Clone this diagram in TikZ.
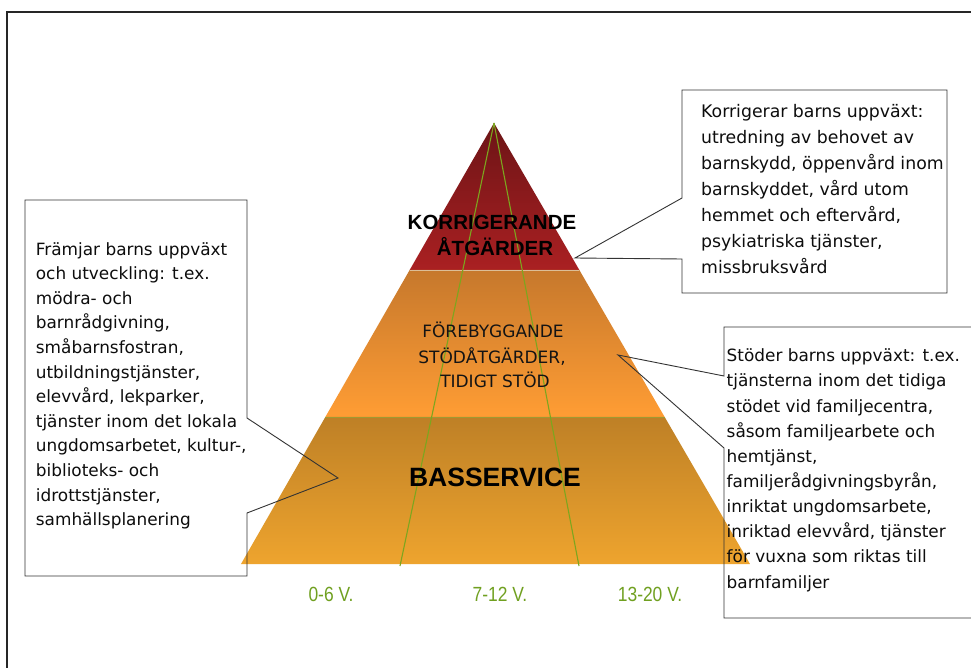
\documentclass[tikz,border=0pt]{standalone}
\usepackage{fontspec}
\setmainfont{Liberation Sans}
\newfontfamily\callfont{DejaVu Sans}
\newfontfamily\midfont{DejaVu Sans}
\newfontfamily\labelfont{Liberation Sans}[FakeStretch=0.85]
\usetikzlibrary{calc}
\definecolor{redtop}{RGB}{108,20,22}
\definecolor{redbot}{RGB}{170,32,34}
\definecolor{midtop}{RGB}{198,120,44}
\definecolor{midbot}{RGB}{255,157,52}
\definecolor{bastop}{RGB}{190,128,38}
\definecolor{basbot}{RGB}{238,164,46}
\definecolor{agegreen}{RGB}{112,160,32}
\definecolor{linegreen}{RGB}{124,166,30}
\begin{document}
\begin{tikzpicture}[x=1pt,y=-1pt,
  callout/.style={draw=black!80, line width=0.9pt, line join=miter},
  calltext/.style={anchor=base west, inner sep=0pt, font=\callfont\fontsize{16.9}{20}\selectfont, text=black!95},
  midtext/.style={anchor=base, inner sep=0pt, font=\midfont\fontsize{17}{20}\selectfont, text=black!92},
  boldtext/.style={anchor=base, inner sep=0pt, font=\bfseries\fontsize{20.5}{24}\selectfont, text=black},
  agelabel/.style={anchor=base, inner sep=0pt, text=agegreen, font=\labelfont\fontsize{20.5}{24}\selectfont},
  divline/.style={draw=linegreen, line width=1.1pt},
]
\clip (0,0) rectangle (971,668);
\fill[white] (0,0) rectangle (971,668);

% outer frame
\draw[line width=2pt, black!85] (7,690) -- (7,12) -- (990,12);

% pyramid
\coordinate (apex) at (494,123);
\coordinate (bl) at (241,564);
\coordinate (br) at (750,564);
\coordinate (l1l) at ($(apex)!1/3!(bl)$);
\coordinate (l1r) at ($(apex)!1/3!(br)$);
\coordinate (l2l) at ($(apex)!2/3!(bl)$);
\coordinate (l2r) at ($(apex)!2/3!(br)$);
\shade[top color=redtop, bottom color=redbot] (apex) -- (l1r) -- (l1l) -- cycle;
\shade[top color=midtop, bottom color=midbot] (l1l) -- (l1r) -- (l2r) -- (l2l) -- cycle;
\shade[top color=bastop, bottom color=basbot] (l2l) -- (l2r) -- (br) -- (bl) -- cycle;
\draw[line width=0.8pt, color={rgb,255:red,220;green,190;blue,150}] (l1l) -- (l1r);
\draw[line width=0.8pt, color={rgb,255:red,160;green,154;blue,50}] (l2l) -- (l2r);

% age dividers
\coordinate (g1) at (400,566);
\coordinate (g2) at (579,566);
\draw[divline] (apex) -- (g1);
\draw[divline] (apex) -- (g2);

% pyramid texts
\node[boldtext] (korr1) at (492,229.5) {KORRIGERANDE};
\node[boldtext] (korr2) at (495,255) {ÅTGÄRDER};
\node[midtext] (mid1) at (493,337.3) {FÖREBYGGANDE};
\node[midtext] (mid2) at (492,363) {STÖDÅTGÄRDER,};
\node[midtext] (mid3) at (495,387.3) {TIDIGT STÖD};
\node[boldtext, font=\bfseries\fontsize{26.5}{30}\selectfont] (bas) at (495,486) {BASSERVICE};

% age labels
\node[agelabel] (age1) at (331,601) {0-6 V.};
\node[agelabel] (age2) at (500,601) {7-12 V.};
\node[agelabel] (age3) at (650,601) {13-20 V.};

% top right callout
\coordinate (tr-nw) at (682,90);
\coordinate (tr-ne) at (947,90);
\coordinate (tr-se) at (947,293);
\coordinate (tr-sw) at (682,293);
\coordinate (tr-a) at (682,198);
\coordinate (tr-b) at (682,259);
\coordinate (tr-tip) at (575,258);
\draw[callout] (tr-nw) -- (tr-ne) -- (tr-se) -- (tr-sw) -- (tr-b) -- (tr-tip) -- (tr-a) -- cycle;
\foreach \t [count=\i from 0] in {Korrigerar barns uppväxt:, utredning av behovet av, {barnskydd, öppenvård inom}, {barnskyddet, vård utom}, {hemmet och eftervård,}, {psykiatriska tjänster,}, missbruksvård}
  \node[calltext, font=\callfont\fontsize{17.3}{20}\selectfont] (trt\i) at (701,117.7+\i*26) {\t};

% right callout
\coordinate (r-nw) at (724,327);
\coordinate (r-ne) at (990,327);
\coordinate (r-se) at (990,618);
\coordinate (r-sw) at (724,618);
\coordinate (r-a) at (724,376);
\coordinate (r-b) at (724,448);
\coordinate (r-tip) at (618,355);
\draw[callout] (r-nw) -- (r-ne) -- (r-se) -- (r-sw) -- (r-b) -- (r-tip) -- (r-a) -- cycle;
\foreach \t [count=\i from 0] in {Stöder barns uppväxt: t.ex., tjänsterna inom det tidiga, {stödet vid familjecentra,}, såsom familjearbete och, {hemtjänst,}, {familjerådgivningsbyrån,}, {inriktat ungdomsarbete,}, {inriktad elevvård, tjänster}, för vuxna som riktas till, barnfamiljer}
  \node[calltext] (rt\i) at (726.5,361.7+\i*25.15) {\t};

% left callout
\coordinate (l-nw) at (25,200);
\coordinate (l-ne) at (247,200);
\coordinate (l-a) at (247,418);
\coordinate (l-tip) at (338,478);
\coordinate (l-b) at (247,513);
\coordinate (l-se) at (247,576);
\coordinate (l-sw) at (25,576);
\draw[callout] (l-nw) -- (l-ne) -- (l-a) -- (l-tip) -- (l-b) -- (l-se) -- (l-sw) -- cycle;
\foreach \t [count=\i from 0] in {Främjar barns uppväxt, och utveckling: t.ex., mödra- och, {barnrådgivning,}, {småbarnsfostran,}, {utbildningstjänster,}, {elevvård, lekparker,}, tjänster inom det lokala, {ungdomsarbetet, kultur-,}, biblioteks- och, {idrottstjänster,}, samhällsplanering}
  \node[calltext] (lt\i) at (35.7,255+\i*24.6) {\t};
\end{tikzpicture}
\end{document}
